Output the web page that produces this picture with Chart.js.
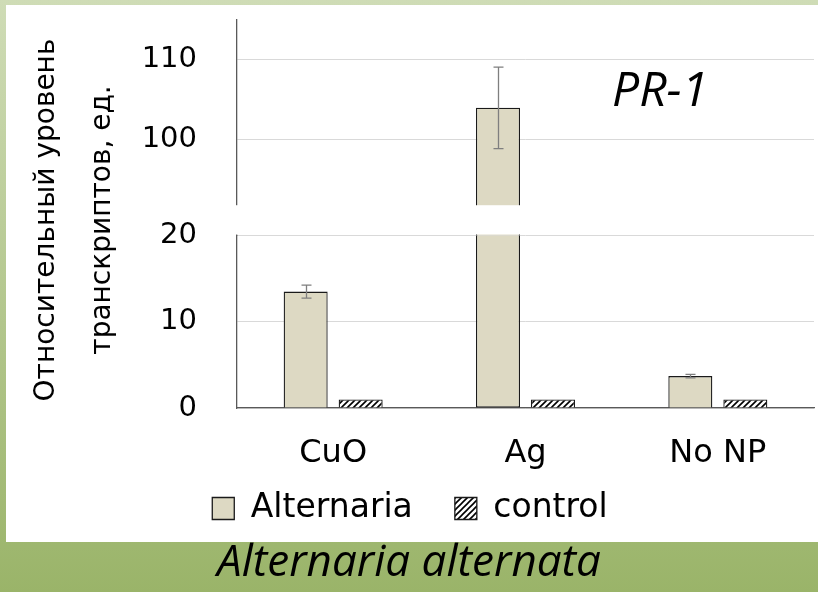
<!DOCTYPE html>
<html>
<head>
<meta charset="utf-8">
<script src="https://cdn.jsdelivr.net/npm/chart.js@4.4.1/dist/chart.umd.min.js"></script>
<style>
  html, body { margin: 0; padding: 0; }
  body {
    width: 818px; height: 592px; position: relative; overflow: hidden;
    background: linear-gradient(to bottom, #cfdcb6 0%, #9ab469 100%);
  }
  #panel { position: absolute; left: 6px; top: 5px; width: 812px; height: 537px; background: #fff; overflow: hidden; }
  #chart { display: block; }
  #gene { position: absolute; left: 606px; top: 50px; font: italic 48px "Open Sans"; color: #000; }
  #caption {
    position: absolute; left: 0; top: 529px; width: 818px; height: 54px; line-height: 54px;
    text-align: center; font: italic 44px "Open Sans"; color: #000;
  }
</style>
</head>
<body>
<div id="panel">
  <canvas id="chart" width="812" height="537"></canvas>
  <div id="gene">PR-1</div>
</div>
<div id="caption">Alternaria alternata</div>
<script>
// data
const categories = ['CuO', 'Ag', 'No NP'];
const alternariaMeans = [13.5, 104, 3.7];
const alternariaErrors = [0.75, 5.1, 0.2];
const controlMeans = [1, 1, 1];
const lowTicks = [0, 10, 20];
const highTicks = [100, 110];
const yTitle = ['Относительный уровень', 'транскриптов, ед.'];

// broken axis: lower panel 0..20, upper panel starts at HIGH_BREAK
const LOW_MAX = 20;
const HIGH_MIN = 88;
const HIGH_MAX = 115;
const HIGH_BREAK = 91.8;

const BEIGE = '#ddd9c3';
const EDGE = '#1a1a1a';
const AXIS = '#595959';
const GRID = '#d9d9d9';

const LEGEND_PAD = 42;
const LEGEND_LIFT = 22;

Chart.defaults.font.family = '"DejaVu Sans", sans-serif';
Chart.defaults.color = '#000';

const canvas = document.getElementById('chart');
const ctx = canvas.getContext('2d');

function makeHatch() {
  const c = document.createElement('canvas');
  c.width = 6; c.height = 6;
  const g = c.getContext('2d');
  g.fillStyle = '#fff';
  g.fillRect(0, 0, 6, 6);
  g.strokeStyle = '#000';
  g.lineWidth = 1.6;
  g.beginPath();
  g.moveTo(0, 6); g.lineTo(6, 0);
  g.moveTo(-1, 1); g.lineTo(1, -1);
  g.moveTo(5, 7); g.lineTo(7, 5);
  g.stroke();
  return ctx.createPattern(c, 'repeat');
}

// each Alternaria value goes to the panel it belongs in
const alternariaLow = alternariaMeans.map(v => Math.min(v, LOW_MAX));
const alternariaHigh = alternariaMeans.map(v => (v > LOW_MAX ? v : null));

const brokenAxis = {
  id: 'brokenAxis',
  afterDatasetsDraw(chart) {
    const {ctx, chartArea, scales} = chart;
    const top = scales.yHigh.getPixelForValue(HIGH_BREAK);
    const bottom = scales.yLow.top - 1;
    if (bottom <= top) return;
    ctx.save();
    ctx.fillStyle = '#fff';
    ctx.fillRect(chartArea.left - 4, top, chartArea.right - chartArea.left + 12, bottom - top);
    ctx.restore();
  }
};

const errorBars = {
  id: 'errorBars',
  afterDatasetsDraw(chart) {
    const {ctx} = chart;
    ctx.save();
    ctx.strokeStyle = '#7f7f7f';
    ctx.lineWidth = 1.3;
    alternariaMeans.forEach((m, i) => {
      const meta = chart.getDatasetMeta(m > LOW_MAX ? 0 : 1);
      const scale = chart.scales[meta.yAxisID];
      const x = Math.round(meta.data[i].x) + 0.5;
      const y1 = scale.getPixelForValue(m + alternariaErrors[i]);
      const y2 = scale.getPixelForValue(m - alternariaErrors[i]);
      ctx.beginPath();
      ctx.moveTo(x, y1); ctx.lineTo(x, y2);
      ctx.moveTo(x - 5, y1); ctx.lineTo(x + 5, y1);
      ctx.moveTo(x - 5, y2); ctx.lineTo(x + 5, y2);
      ctx.stroke();
    });
    ctx.restore();
  }
};

const axisTitle = {
  id: 'axisTitle',
  afterDraw(chart) {
    const {ctx} = chart;
    ctx.save();
    ctx.font = '28px "DejaVu Sans"';
    ctx.fillStyle = '#000';
    ctx.textAlign = 'center';
    ctx.textBaseline = 'middle';
    const xs = [41, 97];
    yTitle.forEach((line, i) => {
      ctx.save();
      ctx.translate(xs[i], 215);
      ctx.rotate(-Math.PI / 2);
      ctx.fillText(line, 0, 0);
      ctx.restore();
    });
    ctx.restore();
  }
};

// wide gap between legend items, but keep the row close under the axis labels
const liftLegend = {
  id: 'liftLegend',
  afterLayout(chart) {
    if (!chart.legend) return;
    chart.legend.top -= LEGEND_LIFT;
    chart.legend.bottom -= LEGEND_LIFT;
  }
};

// no extra room for edge tick labels, the layout is fixed by padding
function noEdgePadding(s) {
  s.paddingTop = 0;
  s.paddingBottom = 0;
  s.paddingLeft = 0;
  s.paddingRight = 0;
}

function yScale(ticks, min, max, weight) {
  return {
    type: 'linear',
    position: 'left',
    stack: 'v',
    stackWeight: weight,
    stacked: false,
    min: min,
    max: max,
    afterBuildTicks: s => { s.ticks = ticks.map(v => ({value: v})); },
    afterFit: s => { s.width = 231; noEdgePadding(s); },
    grid: { color: GRID, lineWidth: 1, drawTicks: false },
    border: { color: AXIS, width: 1.3 },
    ticks: { font: { size: 29 }, padding: 40 }
  };
}

new Chart(ctx, {
  type: 'bar',
  data: {
    labels: categories,
    datasets: [
      {
        label: 'Alternaria', data: alternariaHigh, yAxisID: 'yHigh', stack: 'alt',
        backgroundColor: BEIGE, borderColor: EDGE, borderWidth: 1.3, borderSkipped: 'start'
      },
      {
        label: 'Alternaria', data: alternariaLow, yAxisID: 'yLow', stack: 'alt',
        backgroundColor: BEIGE, borderColor: EDGE, borderWidth: 1.3,
        borderSkipped: c => (c.raw >= LOW_MAX ? 'top' : 'start')
      },
      {
        label: 'control', data: controlMeans, yAxisID: 'yLow', stack: 'ctl',
        backgroundColor: makeHatch(), borderColor: EDGE, borderWidth: 1.3
      }
    ]
  },
  options: {
    responsive: false,
    animation: false,
    devicePixelRatio: 1,
    categoryPercentage: 0.572,
    barPercentage: 0.8,
    layout: { padding: { top: 15, right: 4, bottom: -15, left: 0 } },
    scales: {
      // stacked scales are laid out bottom-up in the order declared
      yLow: yScale(lowTicks, 0, LOW_MAX, 172),
      yHigh: yScale(highTicks, HIGH_MIN, HIGH_MAX, 215),
      x: {
        grid: { display: false, drawTicks: false },
        border: { color: AXIS, width: 1.3 },
        ticks: { font: { size: 32 }, padding: 26 },
        afterFit: s => { s.height = 64; noEdgePadding(s); }
      }
    },
    plugins: {
      tooltip: { enabled: false },
      legend: {
        position: 'bottom',
        labels: {
          font: { size: 33 },
          boxWidth: 22,
          boxHeight: 22,
          padding: LEGEND_PAD,
          filter: item => item.datasetIndex !== 0
        }
      }
    }
  },
  plugins: [brokenAxis, errorBars, axisTitle, liftLegend]
});
</script>
</body>
</html>
